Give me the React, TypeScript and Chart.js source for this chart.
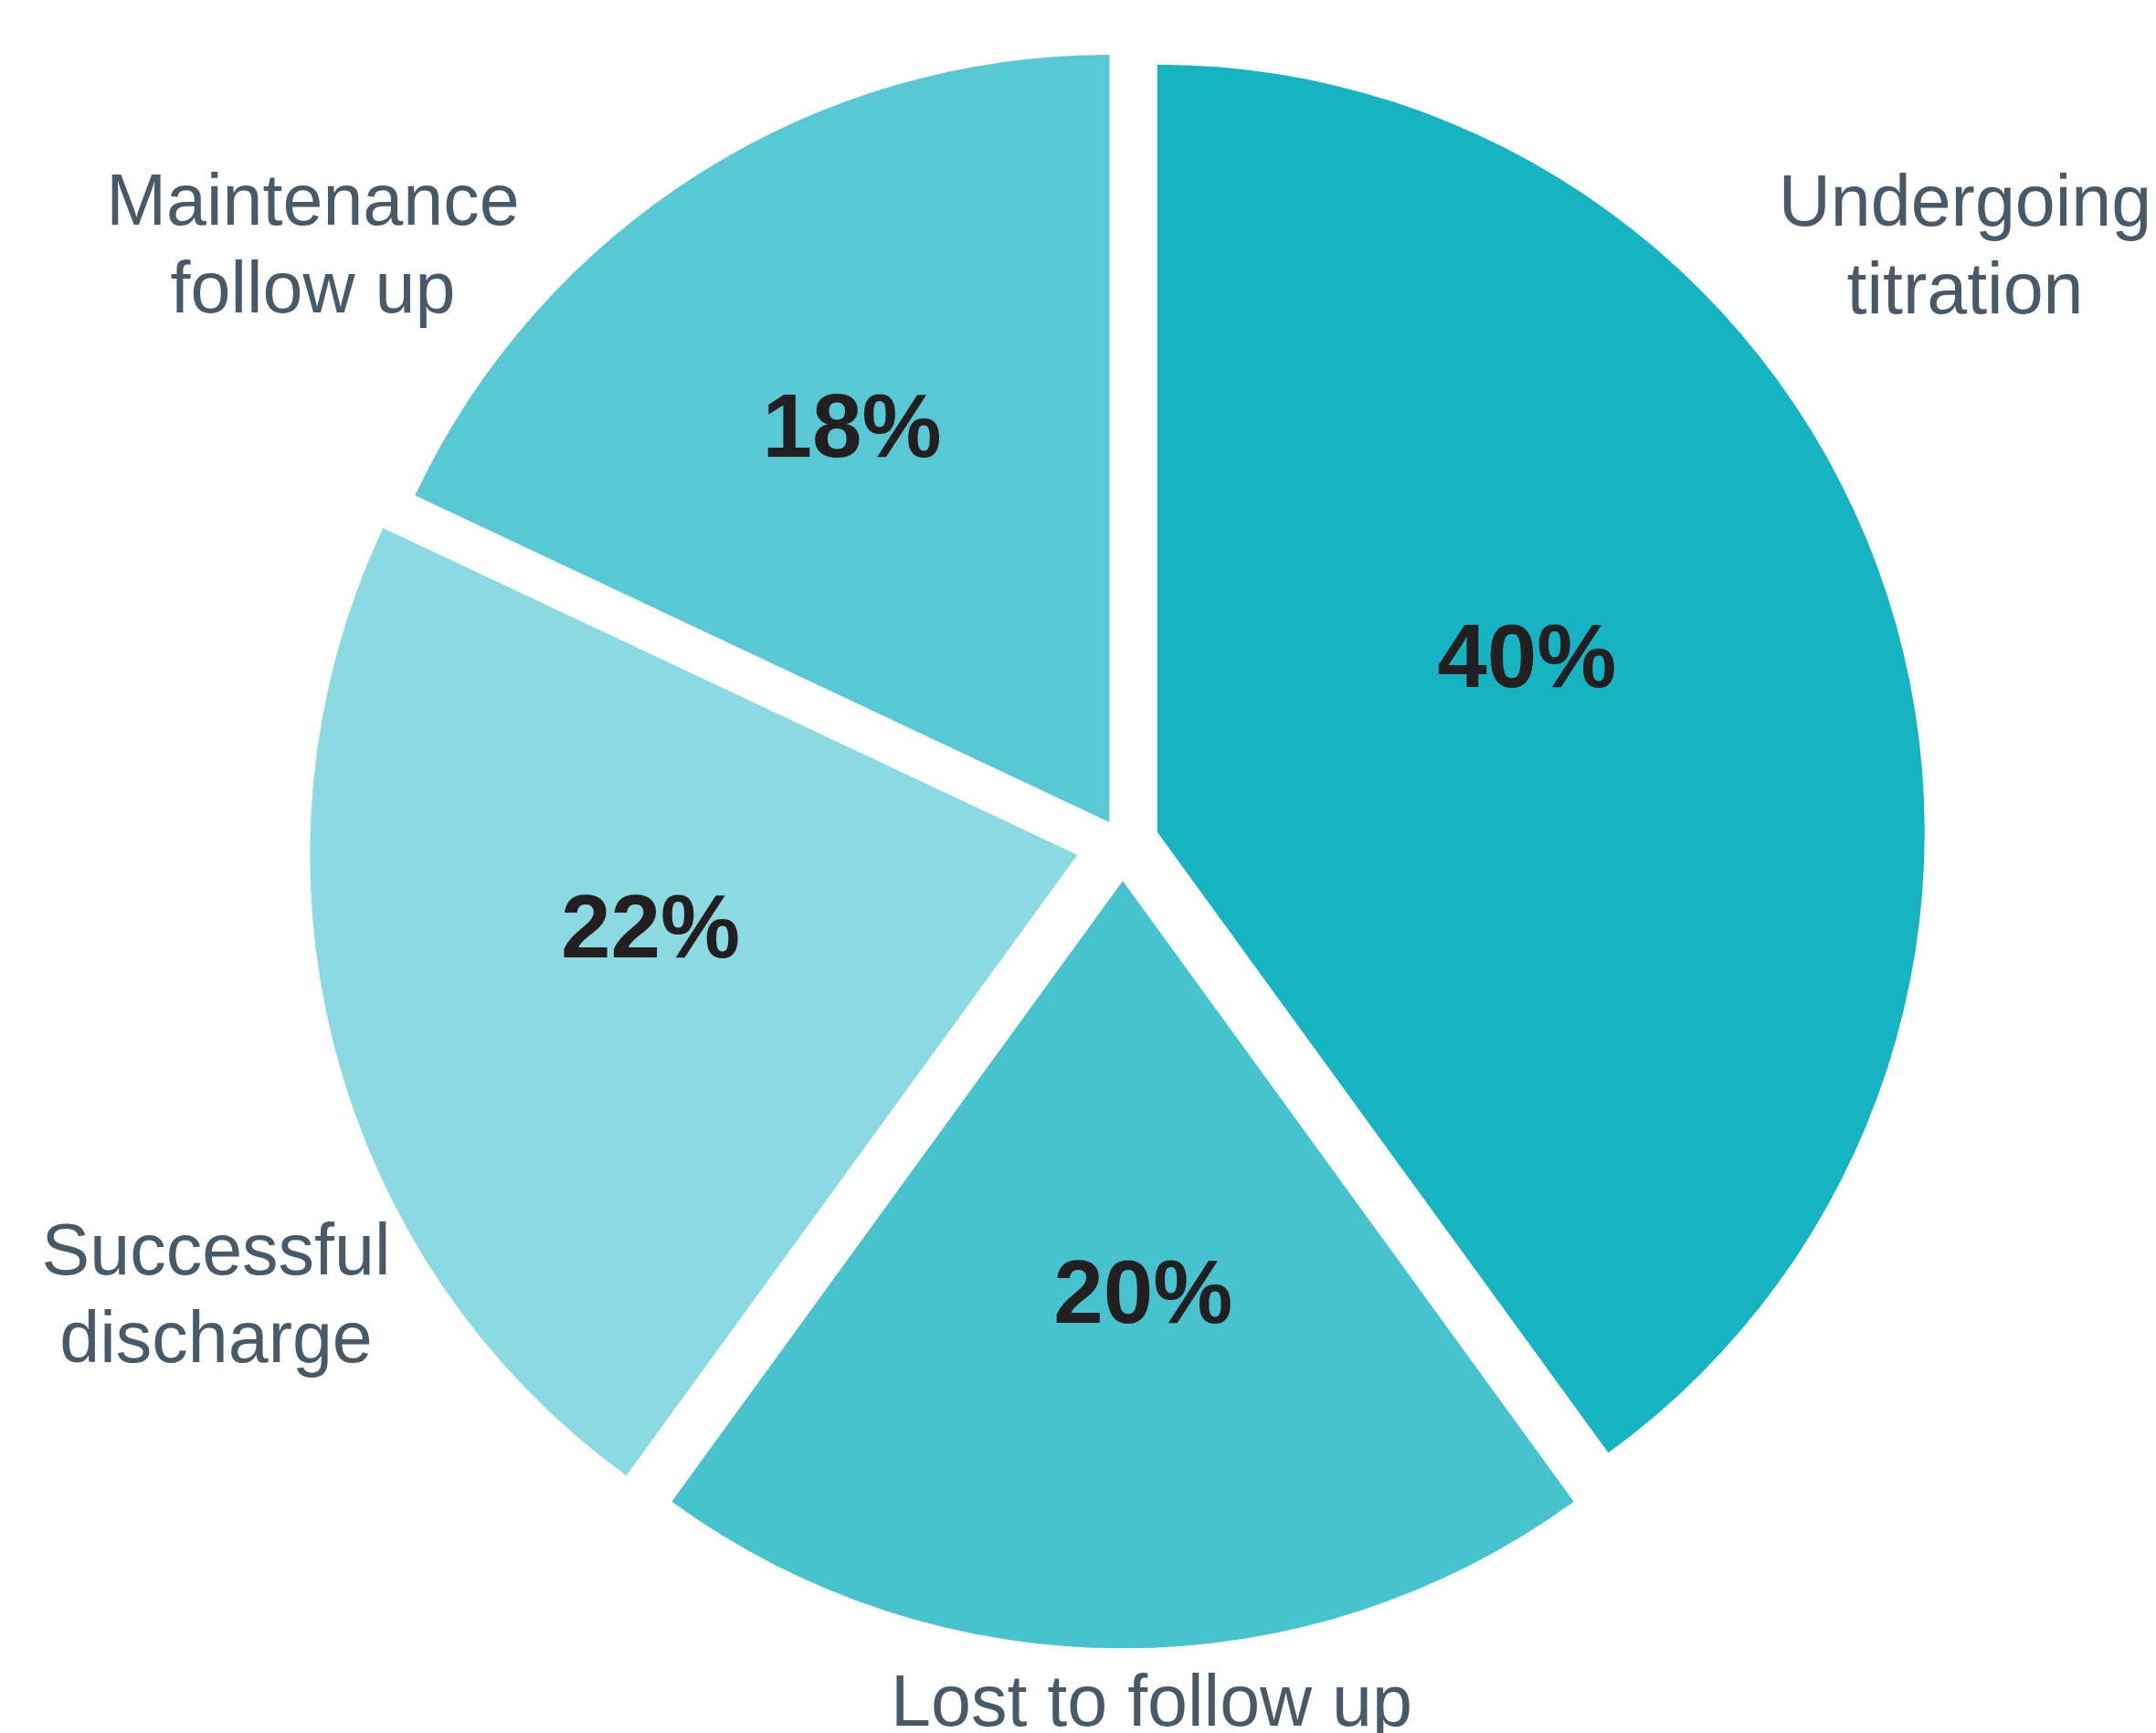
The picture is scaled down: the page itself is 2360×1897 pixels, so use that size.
import React, { useEffect, useRef } from "react";
import { Chart, registerables } from "chart.js";

Chart.register(...registerables);

// ---- data ----
const categories = [
  "Undergoing titration",
  "Lost to follow up",
  "Successful discharge",
  "Maintenance follow up",
];
const labelLines = [
  ["Undergoing", "titration"],
  ["Lost to follow up"],
  ["Successful", "discharge"],
  ["Maintenance", "follow up"],
];
const shares = [40, 20, 22, 18];
const sliceColors = ["#16b3c2", "#46c3ce", "#8cdae1", "#57c8d4"];
const slicePullOut = [39.7, 41.3, 51.3, 27.3];

// ---- layout (fractions of the outer radius, relative to pie centre) ----
const OFFSET_FACTOR = 4; // Chart.js v4 divides arc offset by 4 when drawing
const valueLabelAnchor = [
  [0.5265, -0.2036],
  [0.0265, 0.6254],
  [-0.6155, 0.1492],
  [-0.353, -0.5036],
];
const nameLabelAnchor = [
  [1.0976, -0.8051],
  [0.0375, 1.15],
  [-1.1815, 0.5619],
  [-1.0554, -0.806],
];

const W = 2360;
const H = 1897;

// keep every pulled-out slice at the same radius / true angles
const equalRadiusPlugin = {
  id: "equalRadius",
  afterDatasetsUpdate(chart: any) {
    const meta = chart.getDatasetMeta(0);
    const baseR = meta.controller.outerRadius;
    meta.data.forEach((arc: any) => {
      const off = ((arc.options && arc.options.offset) || 0) / 4;
      const fix = 1 - Math.sin(Math.min(Math.PI, arc.circumference || 0));
      const rOff = off * fix;
      arc.outerRadius = baseR - rOff;
      const ang = rOff / (2 * Math.PI * baseR);
      arc.startAngle = arc.startAngle - ang;
      arc.endAngle = arc.endAngle + ang;
    });
  },
};

const labelPlugin = {
  id: "sliceLabels",
  afterDatasetsDraw(chart: any) {
    const meta = chart.getDatasetMeta(0);
    const ctx = chart.ctx as CanvasRenderingContext2D;
    if (!meta.data.length) return;
    const { x, y } = meta.data[0];
    const R = meta.controller.outerRadius;
    ctx.save();
    ctx.textAlign = "center";
    ctx.textBaseline = "alphabetic";
    ctx.fillStyle = "#231f20";
    ctx.font = "bold 98px 'Liberation Sans', Arial, sans-serif";
    shares.forEach((v, i) => {
      const [fx, fy] = valueLabelAnchor[i];
      ctx.fillText(`${v}%`, x + fx * R, y + fy * R);
    });
    ctx.fillStyle = "#485a68";
    ctx.font = "79px 'Liberation Sans', Arial, sans-serif";
    labelLines.forEach((lines, i) => {
      const [fx, fy] = nameLabelAnchor[i];
      lines.forEach((ln, j) => {
        ctx.fillText(ln, x + fx * R, y + fy * R + j * 96);
      });
    });
    ctx.restore();
  },
};

export default function App() {
  const ref = useRef<HTMLCanvasElement | null>(null);
  useEffect(() => {
    if (!ref.current) return;
    const chart = new Chart(ref.current, {
      type: "pie",
      data: {
        labels: categories,
        datasets: [
          {
            data: shares,
            backgroundColor: sliceColors,
            offset: slicePullOut.map((d) => d * OFFSET_FACTOR),
            borderWidth: 0,
          },
        ],
      },
      options: {
        animation: false,
        responsive: false,
        devicePixelRatio: 1,
        radius: 840,
        layout: { padding: { left: 98, right: 0, top: 0, bottom: 51 } },
        plugins: {
          legend: { display: false },
          tooltip: { enabled: false },
        },
      } as any,
      plugins: [equalRadiusPlugin, labelPlugin],
    });
    return () => chart.destroy();
  }, []);
  return (
    <div style={{ position: "fixed", left: 0, top: 0, width: W, height: H, background: "#fff" }}>
      <canvas ref={ref} width={W} height={H} style={{ width: W, height: H, display: "block" }} />
    </div>
  );
}
